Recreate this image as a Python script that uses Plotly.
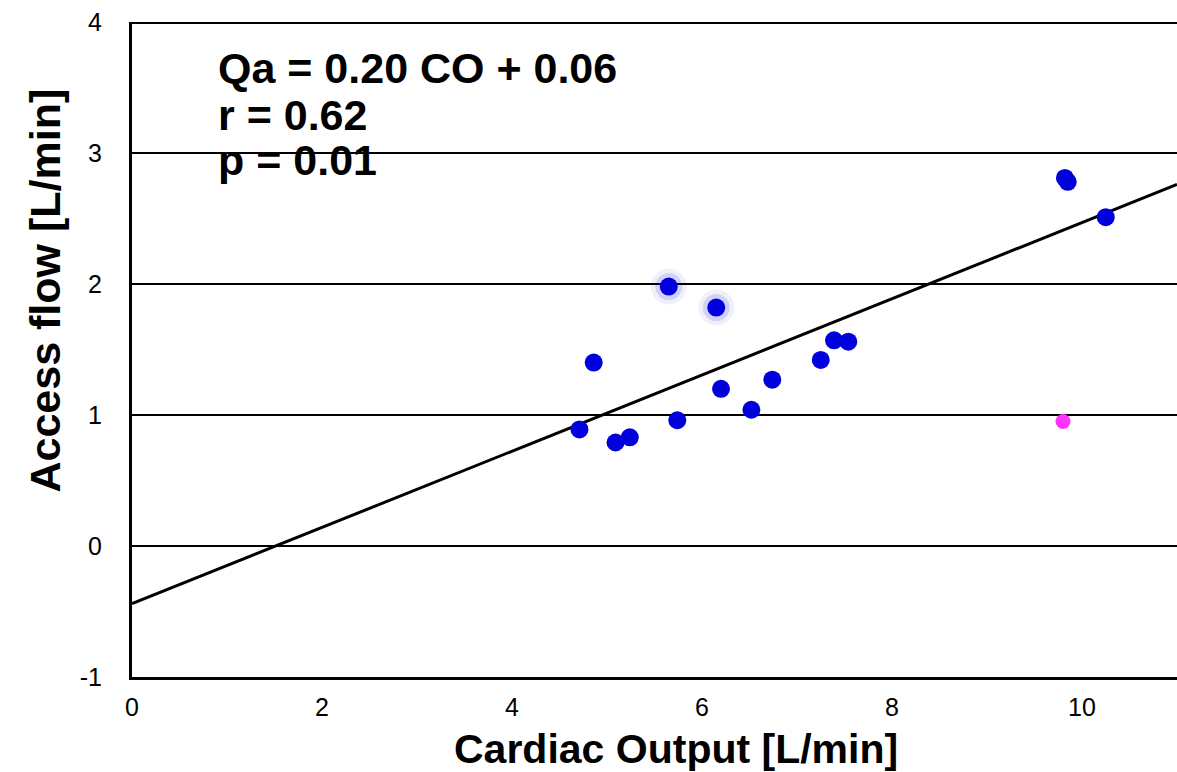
import plotly.graph_objects as go

# Data
co_blue = [4.71, 4.86, 5.09, 5.24, 5.65, 5.74, 6.15, 6.20, 6.52, 6.74, 7.25, 7.39, 7.54, 9.82, 9.85, 10.25]
qa_blue = [0.89, 1.40, 0.79, 0.83, 1.98, 0.96, 1.82, 1.20, 1.04, 1.27, 1.42, 1.57, 1.56, 2.81, 2.78, 2.51]
co_halo = [5.65, 6.15]
qa_halo = [1.98, 1.82]
co_pink = [9.80]
qa_pink = [0.95]
line_x = [0, 11]
line_y = [-0.44, 2.76]
x_ticks = [0, 2, 4, 6, 8, 10]
y_ticks = [-1, 0, 1, 2, 3, 4]
y_tick_text = ["-1", "0", "1", "2", "3", "4"]
stat_lines = ["Qa = 0.20 CO + 0.06", "r = 0.62", "p = 0.01"]
stat_y = [3.65, 3.29, 2.95]
x_title = "Cardiac Output [L/min]"
y_title = "Access flow [L/min]"

BOLD = "Liberation Sans, Arial"
TICK = "Liberation Sans, Arial"

fig = go.Figure()
fig.add_trace(go.Scatter(x=line_x, y=line_y, mode="lines",
                         line=dict(color="black", width=3), showlegend=False, hoverinfo="skip"))
fig.add_trace(go.Scatter(x=co_halo, y=qa_halo, mode="markers",
                         marker=dict(size=36, color="rgba(0,0,220,0.06)", line=dict(width=0)),
                         showlegend=False, hoverinfo="skip"))
fig.add_trace(go.Scatter(x=co_halo, y=qa_halo, mode="markers",
                         marker=dict(size=27, color="rgba(0,0,220,0.12)", line=dict(width=0)),
                         showlegend=False, hoverinfo="skip"))
fig.add_trace(go.Scatter(x=co_blue, y=qa_blue, mode="markers",
                         marker=dict(size=18, color="#0000dd", line=dict(width=0)), showlegend=False))
fig.add_trace(go.Scatter(x=co_pink, y=qa_pink, mode="markers",
                         marker=dict(size=15, color="#ff33ff", line=dict(width=0)), showlegend=False))

annotations = []
for txt, yv in zip(stat_lines, stat_y):
    annotations.append(dict(
        x=0, y=yv, xref="paper", yref="y", xanchor="left", yanchor="middle",
        xshift=84, text="<b>" + txt + "</b>", showarrow=False, align="left",
        font=dict(family=BOLD, size=43, color="black"),
    ))
# axis titles (positioned like the reference, off-centre)
annotations.append(dict(
    x=5.73, y=0, xref="x", yref="paper", xanchor="center", yanchor="middle",
    yshift=-72, text="<b>" + x_title + "</b>", showarrow=False,
    font=dict(family=BOLD, size=41, color="black"),
))
annotations.append(dict(
    x=0, y=1.95, xref="paper", yref="y", xanchor="center", yanchor="middle",
    xshift=-87, textangle=-90, text="<b>" + y_title + "</b>", showarrow=False,
    font=dict(family=BOLD, size=43, color="black"),
))

fig.update_layout(
    width=1177, height=772,
    margin=dict(l=132, r=0, t=22, b=95),
    paper_bgcolor="white", plot_bgcolor="white",
    font=dict(family=BOLD, color="black"),
    xaxis=dict(range=[0, 11], tickvals=x_ticks, showgrid=False, zeroline=False,
               showline=True, linecolor="black", linewidth=3,
               ticks="", tickfont=dict(family=TICK, size=25), ticklabelstandoff=6),
    yaxis=dict(range=[-1, 4], tickvals=y_ticks, ticktext=y_tick_text,
               showgrid=True, gridcolor="black", gridwidth=2,
               zeroline=False, showline=True, linecolor="black", linewidth=3,
               ticks="", tickfont=dict(family=TICK, size=25), ticklabelstandoff=22),
    shapes=[dict(type="line", xref="paper", yref="y", x0=0, x1=1, y0=4, y1=4,
                 line=dict(color="black", width=4))],
    annotations=annotations,
)

fig.write_html("out.html")
